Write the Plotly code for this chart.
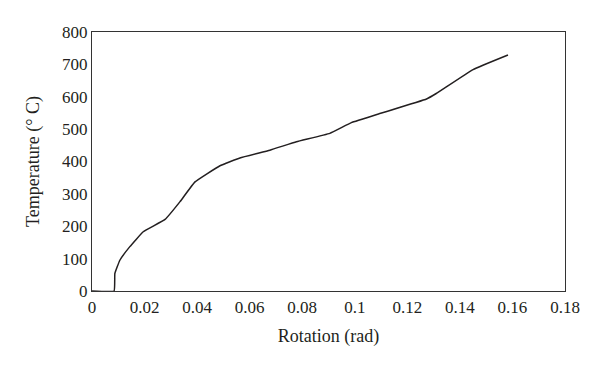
import plotly.graph_objects as go

rotation = [0.0, 0.0084, 0.0087, 0.0106, 0.0144, 0.0195, 0.0278, 0.0335, 0.0392,
            0.0487, 0.0563, 0.0677, 0.0778, 0.0905, 0.0987, 0.1095, 0.1273,
            0.131, 0.145, 0.1583]
temperature = [0, 0, 54, 95, 137, 183, 221, 276, 337,
               387, 411, 435, 461, 487, 520, 548, 593,
               610, 684, 729]

x_ticks = [0, 0.02, 0.04, 0.06, 0.08, 0.1, 0.12, 0.14, 0.16, 0.18]
x_tick_labels = ["0", "0.02", "0.04", "0.06", "0.08", "0.1", "0.12", "0.14", "0.16", "0.18"]
y_ticks = [0, 100, 200, 300, 400, 500, 600, 700, 800]

fig = go.Figure()
fig.add_trace(go.Scatter(x=rotation, y=temperature, mode="lines",
                         line=dict(color="#231f20", width=1.5, shape="spline", smoothing=0.3),
                         showlegend=False))

font = dict(family="Liberation Serif, Times New Roman, serif", size=17, color="#231f20")
fig.update_layout(
    width=600, height=368,
    margin=dict(l=84, r=43, t=24, b=85),
    paper_bgcolor="white", plot_bgcolor="white",
    font=font,
)
fig.update_xaxes(range=[0, 0.18], tickvals=x_ticks, ticktext=x_tick_labels,
                 showgrid=False, zeroline=False, showline=True, linecolor="#333",
                 linewidth=1.2, mirror=True, ticks="", tickfont=dict(size=17),
                 title=dict(text="Rotation (rad)", font=dict(size=18), standoff=13))
fig.update_yaxes(range=[0, 800], tickvals=y_ticks,
                 showgrid=False, zeroline=False, showline=True, linecolor="#333",
                 linewidth=1.2, mirror=True, ticks="", tickfont=dict(size=17),
                 title=dict(text="Temperature (° C)", font=dict(size=18), standoff=17))
fig.write_html("out.html")
